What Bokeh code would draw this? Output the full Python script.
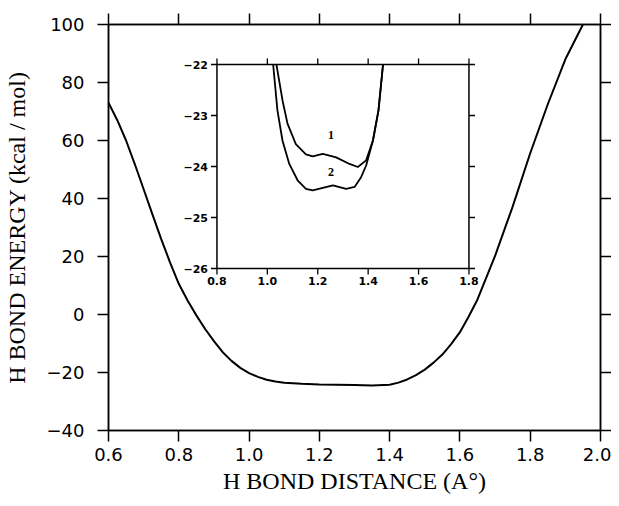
import math
from bokeh.plotting import figure
from bokeh.models import Range1d, LinearAxis, FixedTicker, PrintfTickFormatter
from bokeh.core.properties import value
from bokeh.embed import file_html
from bokeh.resources import INLINE

# ---- main curve data ----
dist = [0.600, 0.625, 0.650, 0.675, 0.700, 0.725, 0.750, 0.775, 0.800, 0.825,
        0.850, 0.875, 0.900, 0.925, 0.950, 0.975, 1.000, 1.025, 1.050, 1.075,
        1.100, 1.150, 1.200, 1.250, 1.300, 1.350, 1.400, 1.425, 1.450, 1.475,
        1.500, 1.525, 1.550, 1.575, 1.600, 1.625, 1.650, 1.700, 1.750, 1.800,
        1.850, 1.900, 1.950]
energy = [73.0, 67.0, 60.0, 51.8, 43.2, 34.5, 26.0, 18.0, 10.6, 4.8,
          -0.3, -5.0, -9.2, -13.0, -16.0, -18.4, -20.2, -21.5, -22.5, -23.1,
          -23.5, -23.9, -24.1, -24.2, -24.3, -24.5, -24.2, -23.5, -22.4, -20.9,
          -19.0, -16.6, -13.8, -10.2, -6.1, -0.7, 5.2, 20.2, 37.2, 55.6,
          72.5, 88.0, 100.0]

x_ticks = [0.6, 0.8, 1.0, 1.2, 1.4, 1.6, 1.8, 2.0]
y_ticks = [-40, -20, 0, 20, 40, 60, 80, 100]

# ---- inset data ----
c1_x = [1.036, 1.06, 1.08, 1.113, 1.153, 1.18, 1.22, 1.273, 1.326, 1.359, 1.392, 1.419, 1.441, 1.459]
c1_y = [-22.0, -22.7, -23.16, -23.56, -23.76, -23.8, -23.75, -23.82, -23.95, -24.01, -23.88, -23.49, -22.9, -22.0]
c2_x = [1.023, 1.04, 1.06, 1.087, 1.12, 1.153, 1.18, 1.22, 1.26, 1.313, 1.346, 1.372, 1.392, 1.419, 1.441, 1.459]
c2_y = [-22.0, -22.9, -23.49, -23.95, -24.27, -24.44, -24.47, -24.42, -24.37, -24.44, -24.4, -24.21, -23.98, -23.49, -22.9, -22.0]
curve_names = ["1", "2"]
curve_label_x = [1.253, 1.253]
curve_label_y = [-23.39, -24.11]

inset_x_ticks = [0.8, 1.0, 1.2, 1.4, 1.6, 1.8]
inset_x_labels = ["0.8", "1.0", "1.2", "1.4", "1.6", "1.8"]
inset_y_ticks = [-26, -25, -24, -23, -22]
inset_y_labels = ["\u221226", "\u221225", "\u221224", "\u221223", "\u221222"]

# inset placement (in main-plot data coordinates)
INSET_XT = (0.9086, 1.6257)
INSET_YT = (15.86, 86.2)

p = figure(width=611, height=498, output_backend="svg", toolbar_location=None,
           x_range=Range1d(0.6, 2.0), y_range=Range1d(-40, 100),
           min_border_left=102, min_border_right=11, min_border_top=24,
           min_border_bottom=68)
p.xgrid.visible = False
p.ygrid.visible = False
p.background_fill_color = "white"
p.border_fill_color = "white"
p.outline_line_color = "black"
p.outline_line_width = 1.5


def style_axis(ax, ticks, labels=True):
    ax.axis_line_color = "black"
    ax.axis_line_width = 1.5
    ax.major_tick_line_color = "black"
    ax.major_tick_line_width = 1.5
    ax.major_tick_out = 11
    ax.major_tick_in = 0
    ax.minor_tick_line_color = None
    if labels:
        ax.major_label_text_font = "DejaVu Sans"
        ax.major_label_text_font_size = "18px"
        ax.major_label_text_color = "black"
        ax.axis_label_text_font = "Liberation Serif"
        ax.axis_label_text_font_size = "24px"
        ax.axis_label_text_font_style = "normal"
        ax.axis_label_text_color = "black"
    else:
        ax.major_label_overrides = {t: "" for t in ticks}
        ax.major_label_text_font_size = "2px"
        ax.major_label_standoff = 0


xa = p.xaxis[0]
xa.ticker = FixedTicker(ticks=x_ticks)
xa.formatter = PrintfTickFormatter(format="%.1f")
xa.axis_label = "H BOND DISTANCE (A\u00b0)"
style_axis(xa, x_ticks)
xa.major_label_standoff = 6
xa.axis_label_standoff = 4

ya = p.yaxis[0]
ya.ticker = FixedTicker(ticks=y_ticks)
ya.axis_label = "H BOND ENERGY (kcal / mol)"
style_axis(ya, y_ticks)
ya.major_label_standoff = 13
ya.axis_label_standoff = 14
ya.major_label_overrides = {-20: "\u221220", -40: "\u221240"}

top = LinearAxis(ticker=FixedTicker(ticks=x_ticks))
style_axis(top, x_ticks, labels=False)
p.add_layout(top, "above")
right = LinearAxis(ticker=FixedTicker(ticks=y_ticks))
style_axis(right, y_ticks, labels=False)
p.add_layout(right, "right")

p.line(dist, energy, line_color="black", line_width=2)

# ---- inset via sub-coordinates ----
ins = p.subplot(x_source=Range1d(0.8, 1.8), y_source=Range1d(-26, -22),
                x_target=Range1d(*INSET_XT), y_target=Range1d(*INSET_YT))

ins.quad(left=0.8, right=1.8, bottom=-26, top=-22, fill_color=None,
         line_color="black", line_width=1.5)
ins.ray(x=inset_x_ticks, y=-26, length=6, length_units="screen", angle=-math.pi / 2,
        line_color="black", line_width=1.3)
ins.ray(x=inset_x_ticks, y=-22, length=6, length_units="screen", angle=math.pi / 2,
        line_color="black", line_width=1.3)
ins.ray(x=0.8, y=inset_y_ticks, length=6, length_units="screen", angle=math.pi,
        line_color="black", line_width=1.3)
ins.ray(x=1.8, y=inset_y_ticks, length=6, length_units="screen", angle=0,
        line_color="black", line_width=1.3)

ins.text(x=inset_x_ticks, y=-26, text=inset_x_labels, y_offset=8,
         text_align="center", text_baseline="top",
         text_font=value("DejaVu Sans"), text_font_style="bold",
         text_font_size="11px", text_color="black")
ins.text(x=0.8, y=inset_y_ticks, text=inset_y_labels, x_offset=-9,
         text_align="right", text_baseline="middle",
         text_font=value("DejaVu Sans"), text_font_style="bold",
         text_font_size="11px", text_color="black")

ins.line(c1_x, c1_y, line_color="black", line_width=1.8)
ins.line(c2_x, c2_y, line_color="black", line_width=1.8)
ins.text(x=curve_label_x, y=curve_label_y, text=curve_names,
         text_align="center", text_baseline="middle",
         text_font=value("Liberation Serif"), text_font_style="bold",
         text_font_size="12px", text_color="black")

open("out.html", "w").write(file_html(p, INLINE))
